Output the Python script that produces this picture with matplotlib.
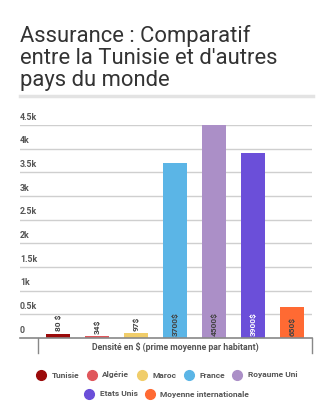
import matplotlib
matplotlib.use('Agg')

import matplotlib.pyplot as plt
import matplotlib.transforms as mtransforms
from matplotlib.lines import Line2D

# data
pays = ['Tunisie', 'Algérie', 'Maroc', 'France', 'Royaume Uni', 'Etats Unis', 'Moyenne internationale']
densite = [80, 34, 97, 3700, 4500, 3900, 650]
etiquettes = ['80 $', '34$', '97$', '3700$', '4500$', '3900$', '650$']
couleurs = ['#9b0a0a', '#e0575c', '#f0cd6a', '#5bb5e6', '#ab8fc7', '#6b4fd9', '#ff6a33']
couleurs_texte = ['#444444', '#444444', '#444444', '#444444', '#444444', '#ffffff', '#444444']
yticks = [0, 500, 1000, 1500, 2000, 2500, 3000, 3500, 4000, 4500]
ytick_labels = ['0', '0.5k', '1k', '1.5k', '2k', '2.5k', '3k', '3.5k', '4k', '4.5k']
legende_lignes = [pays[:5], pays[5:]]

plt.rcParams['font.family'] = ['Roboto', 'DejaVu Sans']

W, H = 333, 413
fig = plt.figure(figsize=(W / 100, H / 100), dpi=100)
fig.patch.set_facecolor('white')

# title
titre = ['Assurance : Comparatif', "entre la Tunisie et d'autres", 'pays du monde']
for i, ligne in enumerate(titre):
    fig.text(20 / W, 1 - (42 + 22 * i) / H, ligne, fontsize=15.8, color='#333333',
             ha='left', va='baseline')
fig.add_artist(Line2D([20 / W, 313 / W], [1 - 96 / H, 1 - 96 / H], color='#e3e3e3',
                      lw=2.5, transform=fig.transFigure))

# axes
ax = fig.add_axes([20 / W, 1 - 338 / H, 292 / W, 213 / H])
ax.set_xlim(-0.974, 6.51)
ax.set_ylim(0, 4500)
for s in ax.spines.values():
    s.set_visible(False)
ax.set_xticks([])
ax.set_yticks([])

for v in yticks[1:]:
    ax.axhline(v, color='#cfcfcf', lw=1, zorder=0)
for v, lab in zip(yticks, ytick_labels):
    ax.annotate(lab, xy=(0, v), xycoords=('axes fraction', 'data'), xytext=(0, 2.5),
                textcoords='offset points', fontsize=6.3, fontweight='bold',
                color='#555555', ha='left', va='bottom')

x = list(range(len(pays)))
ax.bar(x, densite, width=0.615, color=couleurs, zorder=2, clip_on=False)

for xi, v, lab, c in zip(x, densite, etiquettes, couleurs_texte):
    if v > 500:
        ax.annotate(lab, xy=(xi, 0), xytext=(0, 1.5), textcoords='offset points',
                    rotation=90, ha='center', va='bottom', fontsize=6,
                    fontweight='bold', color=c, zorder=3)
    else:
        ax.annotate(lab, xy=(xi, v), xytext=(0, 2), textcoords='offset points',
                    rotation=90, ha='center', va='bottom', fontsize=6,
                    fontweight='bold', color=c, zorder=3)

# base axis and category bracket
trans = mtransforms.blended_transform_factory(ax.transData, ax.transAxes)
ax.plot([-0.974, 6.51], [0, 0], color='#888888', lw=1.2, transform=trans, clip_on=False, zorder=4)
ax.plot([-0.5, -0.5], [0, -0.072], color='#888888', lw=1, transform=trans, clip_on=False)
ax.plot([6.5, 6.5], [0, -0.072], color='#888888', lw=1, transform=trans, clip_on=False)
ax.text(3, -0.042, 'Densité en $ (prime moyenne par habitant)', transform=trans,
        ha='center', va='center', fontsize=6.3, fontweight='bold', color='#555555')

# legend
fig.canvas.draw()
rend = fig.canvas.get_renderer()
for r, ligne in enumerate(legende_lignes):
    y = 1 - (375 + 19 * r) / H
    items = []
    total = 0
    for nom in ligne:
        t = fig.text(0, y, nom, fontsize=6, fontweight='bold', color='#555555',
                     ha='left', va='center')
        w = t.get_window_extent(rend).width
        items.append((nom, t, w))
        total += 9 + 6 + w
    total += 8 * (len(ligne) - 1)
    pos = 167 - total / 2
    for nom, t, w in items:
        c = couleurs[pays.index(nom)]
        fig.add_artist(Line2D([(pos + 4.5) / W], [y], marker='o', markersize=7,
                              color=c, transform=fig.transFigure))
        t.set_x((pos + 15) / W)
        pos += 9 + 6 + w + 8

fig.savefig('out.png', dpi=100)
